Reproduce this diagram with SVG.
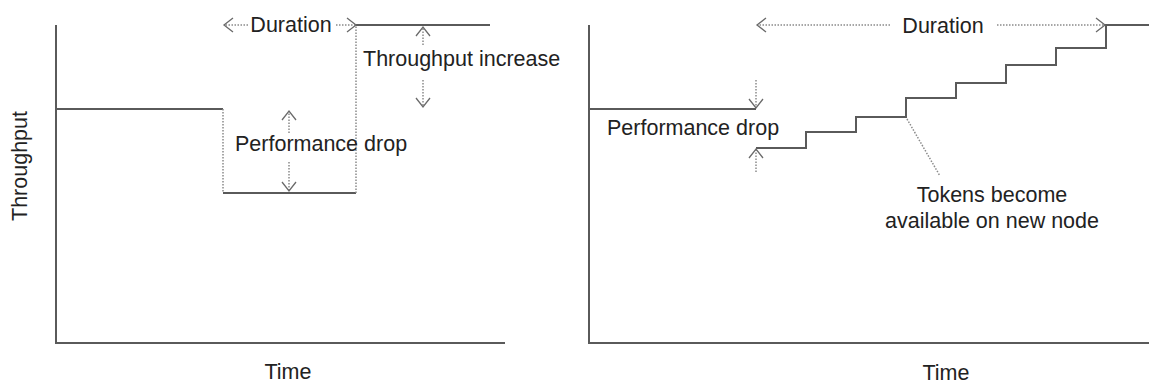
<svg xmlns="http://www.w3.org/2000/svg" width="1149" height="383" viewBox="0 0 1149 383">
<style>
.ax{stroke:#5a5a5a;stroke-width:2;fill:none}
.ln{stroke:#5a5a5a;stroke-width:2;fill:none}
.dt{stroke:#8a8a8a;stroke-width:1.5;stroke-dasharray:1.5 1.5;fill:none}
.tx{font-family:"Liberation Sans",Arial,sans-serif;font-size:21.5px;fill:#222}
</style>
<defs>
<marker id="ah" markerUnits="userSpaceOnUse" markerWidth="20" markerHeight="20" viewBox="-12 -10 14 20" refX="0" refY="0" orient="auto">
<path d="M -9 -7 L 0 0 L -9 7" fill="none" stroke="#6a6a6a" stroke-width="1.3"/>
</marker>
</defs>
<g id="left-chart">
<g id="left-axes">
<path class="ax" d="M56 25 V343 H505"/>
<text class="tx" transform="translate(27,166) rotate(-90)" text-anchor="middle">Throughput</text>
<text class="tx" x="288" y="379" text-anchor="middle">Time</text>
</g>
<g id="left-series">
<path class="ln" d="M56 109 H223"/>
<path class="ln" d="M223 193 H356"/>
<path class="ln" d="M356 25 H490"/>
</g>
<g id="left-connectors">
<path class="dt" d="M223 109 V193"/>
<path class="dt" d="M356 193 V25"/>
<line class="dt" x1="248" y1="25" x2="224" y2="25" marker-end="url(#ah)"/>
<line class="dt" x1="336" y1="25" x2="356" y2="25" marker-end="url(#ah)"/>
<line class="dt" x1="289" y1="133" x2="289" y2="111" marker-end="url(#ah)"/>
<line class="dt" x1="289" y1="162" x2="289" y2="191" marker-end="url(#ah)"/>
<line class="dt" x1="423" y1="45" x2="423" y2="27" marker-end="url(#ah)"/>
<line class="dt" x1="423" y1="80" x2="423" y2="107" marker-end="url(#ah)"/>
</g>
<g id="left-labels">
<text class="tx" x="291" y="32" text-anchor="middle">Duration</text>
<text class="tx" x="235" y="151">Performance drop</text>
<text class="tx" x="363" y="66">Throughput increase</text>
</g>
</g>
<g id="right-chart">
<g id="right-axes">
<path class="ax" d="M589 25 V343 H1149"/>
<text class="tx" x="946" y="380" text-anchor="middle">Time</text>
</g>
<g id="right-series">
<path class="ln" d="M589 109 H756"/>
<path class="ln" d="M756 148 H806 V132 H856 V117 H906 V98 H956 V83 H1006 V65 H1056 V48 H1106 V25 H1149"/>
</g>
<g id="right-connectors">
<line class="dt" x1="756" y1="80" x2="756" y2="108" marker-end="url(#ah)"/>
<line class="dt" x1="756" y1="172" x2="756" y2="149" marker-end="url(#ah)"/>
<line class="dt" x1="890" y1="25" x2="757" y2="25" marker-end="url(#ah)"/>
<line class="dt" x1="997" y1="25" x2="1105" y2="25" marker-end="url(#ah)"/>
<line class="dt" x1="907" y1="119" x2="940" y2="176"/>
</g>
<g id="right-labels">
<text class="tx" x="943" y="33" text-anchor="middle">Duration</text>
<text class="tx" x="607" y="135">Performance drop</text>
<text class="tx" x="992" y="202" text-anchor="middle">Tokens become</text>
<text class="tx" x="992" y="228" text-anchor="middle">available on new node</text>
</g>
</g>
</svg>
